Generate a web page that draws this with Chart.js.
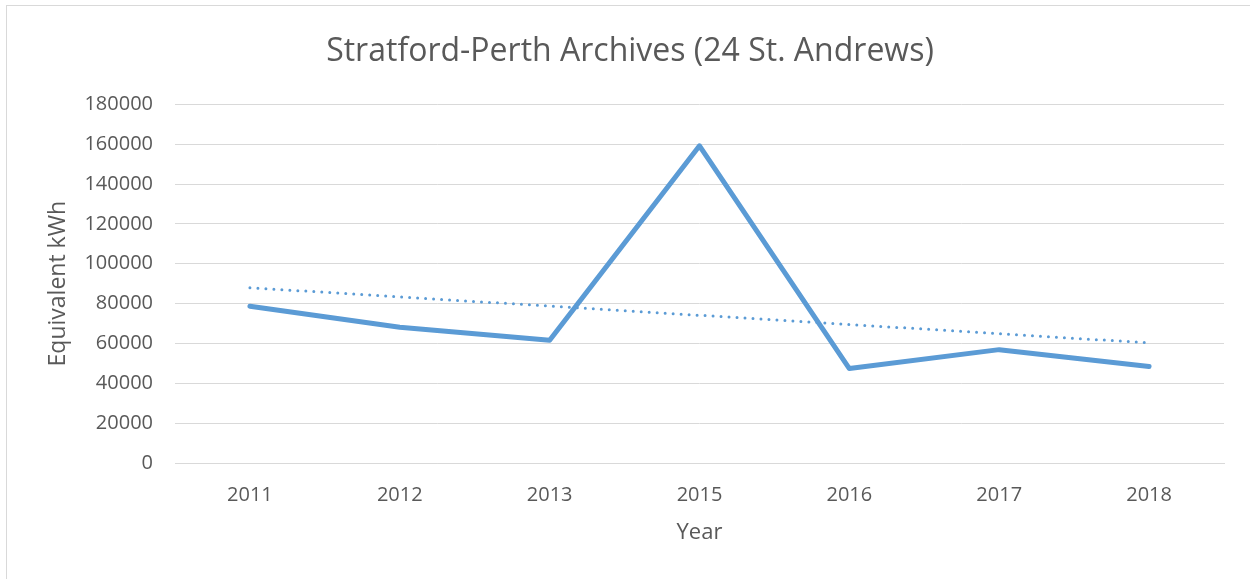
<!DOCTYPE html>
<html>
<head>
<meta charset="utf-8">
<script src="https://cdn.jsdelivr.net/npm/chart.js@4/dist/chart.umd.min.js"></script>
<style>
  html, body { margin: 0; padding: 0; background: #fff; overflow: hidden; }
  .frame {
    position: absolute; left: 6px; top: 5px;
    width: 1300px; height: 700px;
    border: 1px solid #d9d9d9;
  }
  .wrap { position: absolute; left: 0; top: 0; width: 1250px; height: 579px; }
</style>
</head>
<body>
<div class="frame"></div>
<div class="wrap"><canvas id="energyChart" width="1250" height="579"></canvas></div>
<script>
const years = ['2011', '2012', '2013', '2015', '2016', '2017', '2018'];
const kwhValues = [78700, 68100, 61600, 159200, 47400, 56900, 48400];
const trendValues = [88000, 83380, 78770, 74150, 69530, 64920, 60300];
const yTicks = [0, 20000, 40000, 60000, 80000, 100000, 120000, 140000, 160000, 180000];

const textColor = '#595959';
const lineBlue = '#5b9bd5';
const fontFamily = '"Open Sans", "DejaVu Sans", sans-serif';

function buildChart() {
  const ctx = document.getElementById('energyChart');
  new Chart(ctx, {
    type: 'line',
    data: {
      labels: years,
      datasets: [{
        label: 'Equivalent kWh',
        data: kwhValues,
        borderColor: lineBlue,
        borderWidth: 5,
        pointRadius: 0,
        tension: 0,
        borderJoinStyle: 'round',
        borderCapStyle: 'round',
      }, {
        label: 'Linear trend',
        data: trendValues,
        borderColor: lineBlue,
        borderWidth: 3,
        borderDash: [0, 8],
        borderCapStyle: 'round',
        pointRadius: 0,
        tension: 0,
      }],
    },
    options: {
      responsive: false,
      animation: false,
      // left padding keeps the title centred like the original
      layout: { padding: { left: 36, right: 26, top: 0, bottom: 0 } },
      plugins: {
        legend: { display: false },
        tooltip: { enabled: false },
        title: {
          display: true,
          text: 'Stratford-Perth Archives (24 St. Andrews)',
          color: textColor,
          font: { family: fontFamily, size: 32, weight: 'normal' },
          padding: { top: 33, bottom: 33 },
        },
      },
      scales: {
        x: {
          offset: true,
          grid: { display: false },
          border: { color: '#d9d9d9' },
          ticks: { color: textColor, font: { family: fontFamily, size: 20 }, padding: 12 },
          title: {
            display: true,
            text: 'Year',
            color: textColor,
            font: { family: fontFamily, size: 22 },
            padding: { top: 0, bottom: 33 },
          },
          afterFit: (scale) => { scale.height = 116; },
        },
        y: {
          min: 0,
          max: 180000,
          afterBuildTicks: (scale) => { scale.ticks = yTicks.map((v) => ({ value: v })); },
          grid: { color: '#d9d9d9', lineWidth: 1, drawTicks: false },
          border: { display: false },
          ticks: {
            color: textColor,
            font: { family: fontFamily, size: 20 },
            padding: 22,
            callback: (v) => String(v),
          },
          title: {
            display: true,
            text: 'Equivalent kWh',
            color: textColor,
            font: { family: fontFamily, size: 23 },
            padding: { top: 9, bottom: 0 },
          },
          afterFit: (scale) => { scale.width = 139; },
        },
      },
    },
  });
}

document.addEventListener('DOMContentLoaded', buildChart);
</script>
</body>
</html>
